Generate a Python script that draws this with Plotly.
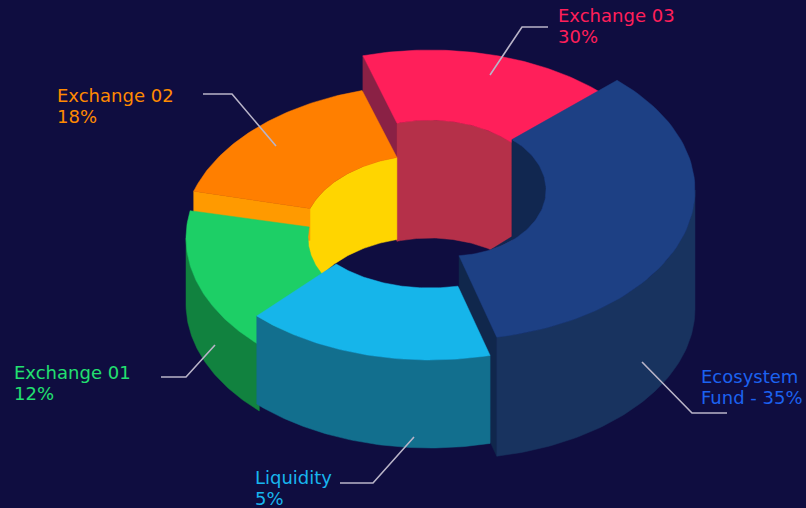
import numpy as np
import plotly.graph_objects as go

# Chart content
segments = ["Exchange 03", "Exchange 02", "Exchange 01", "Liquidity", "Ecosystem Fund"]
shares = [30, 18, 12, 5, 35]
label_line1 = ["Exchange 03", "Exchange 02", "Exchange 01", "Liquidity", "Ecosystem"]
label_line2 = ["30%", "18%", "12%", "5%", "Fund - 35%"]

# The artwork's slices are not drawn in proportion to their shares, so the sweep
# of every slice (ellipse parameter, degrees) is read separately from the picture.
outer_from = [105.9, 105.6, 169.5, 225.0, 47.0]
outer_to = [44.0, 163.0, 232.0, 284.2, -79.0]
inner_from = [106.4, 104.4, 171.9, 223.8, 49.8]
inner_to = [45.6, 160.7, 215.0, 282.4, -84.6]

# Projection of each slice's ring: centre, outer radii, inner radii (pixels)
centre_x = [430, 428, 431, 430, 450]
centre_y = [200, 235, 238, 210, 190]
outer_rx = [245, 245, 245, 245, 245]
outer_ry = [150, 150, 150, 150, 150]
inner_rx = [117, 125, 123, 130, 96]
inner_ry = [80, 80, 78, 78, 66]
wall_height = [118, 82, 66, 88, 119]

top_colors = ["#ff1f5a", "#ff7f00", "#1dcf66", "#16b5ea", "#1d4084"]
wall_colors = ["#b53049", "#ffd500", "#11823f", "#126f8e", "#18335f"]
inner_dark = "#112750"
cut_colors = ["#8a2145", "#ff9a00", None, None, "#10274c"]
label_colors = ["#ff1f5a", "#ff8a00", "#22e070", "#18b5ee", "#1c62f0"]
background = "#0f0d40"
leader_color = "#b9b4c8"

label_x = [557, 56, 13, 254, 700]
label_y = [15, 95, 372, 477, 376]
line_gap = 21
leader_x = [[490, 522, 548], [203, 232, 276], [161, 186, 215], [340, 373, 414], [642, 692, 727]]
leader_y = [[75, 27, 27], [94, 94, 146], [377, 377, 345], [483, 483, 437], [362, 413, 413]]


def point(i, t, inner=False, drop=0):
    rx = inner_rx[i] if inner else outer_rx[i]
    ry = inner_ry[i] if inner else outer_ry[i]
    r = np.radians(t)
    return centre_x[i] + rx * np.cos(r), centre_y[i] - ry * np.sin(r) + drop


def arc(i, a, b, inner=False, drop=0):
    t = np.linspace(a, b, 70)
    return point(i, t, inner, drop)


fig = go.Figure()


def poly(xs, ys, color, name):
    xs, ys = list(xs), list(ys)
    fig.add_trace(go.Scatter(x=xs + xs[:1], y=ys + ys[:1], mode="lines", fill="toself",
                             fillcolor=color, line=dict(color=color, width=0.5),
                             name=name, hoverinfo="name", showlegend=False))


def top(i):
    ox, oy = arc(i, outer_from[i], outer_to[i])
    ix, iy = arc(i, inner_to[i], inner_from[i], inner=True)
    poly(np.r_[ox, ix], np.r_[oy, iy], top_colors[i], segments[i])


def outer_wall(i, a, b):
    ox, oy = arc(i, a, b)
    lx, ly = arc(i, b, a, drop=wall_height[i])
    poly(np.r_[ox, lx], np.r_[oy, ly], wall_colors[i], segments[i])


def inner_wall(i, a, b, color):
    ux, uy = arc(i, a, b, inner=True)
    lx, ly = arc(i, b, a, inner=True, drop=wall_height[i])
    poly(np.r_[ux, lx], np.r_[uy, ly], color, segments[i])


def cut_face(i, outer_t, inner_t, height, color):
    ox, oy = point(i, outer_t)
    ix, iy = point(i, inner_t, inner=True)
    poly([ox, ix, ix, ox], [oy, iy, iy + height, oy + height], color, segments[i])


# Exchange 03: side face, inner wall, top
cut_face(0, outer_from[0], inner_from[0], wall_height[0], cut_colors[0])
inner_wall(0, inner_from[0], inner_to[0], wall_colors[0])
top(0)
# Ecosystem Fund inner wall sits behind its own top
ux, uy = arc(4, inner_from[4], -65, inner=True)
sx, sy = point(4, inner_from[4], inner=True)
poly(np.r_[ux, sx], np.r_[uy, sy + 97], inner_dark, segments[4])
# Exchange 02: inner wall, side band, top
inner_wall(1, inner_from[1], 170, wall_colors[1])
cut_face(1, outer_to[1], inner_to[1], 32, cut_colors[1])
top(1)
# Exchange 01 (its wall stops where the Liquidity wall begins)
outer_wall(2, 180, 225.5)
top(2)
# Ecosystem Fund cut face goes under Liquidity
cut_face(4, outer_to[4], inner_to[4], wall_height[4], cut_colors[4])
# Liquidity
outer_wall(3, outer_from[3], outer_to[3])
top(3)
# Ecosystem Fund
outer_wall(4, 0, outer_to[4])
top(4)

for lx, ly in zip(leader_x, leader_y):
    fig.add_trace(go.Scatter(x=lx, y=ly, mode="lines", line=dict(color=leader_color, width=1.6),
                             hoverinfo="skip", showlegend=False))

for a, b, x, y, color in zip(label_line1, label_line2, label_x, label_y, label_colors):
    for text, ty in ((a, y), (b, y + line_gap)):
        fig.add_annotation(x=x, y=ty, text=text, xref="x", yref="y", xanchor="left", yanchor="middle",
                           align="left", showarrow=False, borderpad=0,
                           font=dict(family="DejaVu Sans, sans-serif", size=18, color=color))

fig.update_layout(
    width=806, height=508, margin=dict(l=0, r=0, t=0, b=0),
    paper_bgcolor=background, plot_bgcolor=background, showlegend=False,
    xaxis=dict(range=[0, 806], visible=False, fixedrange=True),
    yaxis=dict(range=[508, 0], visible=False, fixedrange=True),
)
fig.write_html("out.html", config=dict(displayModeBar=False),
               post_script="document.body.style.margin='0';document.body.style.overflow='hidden';"
                           f"document.body.style.background='{background}';")
